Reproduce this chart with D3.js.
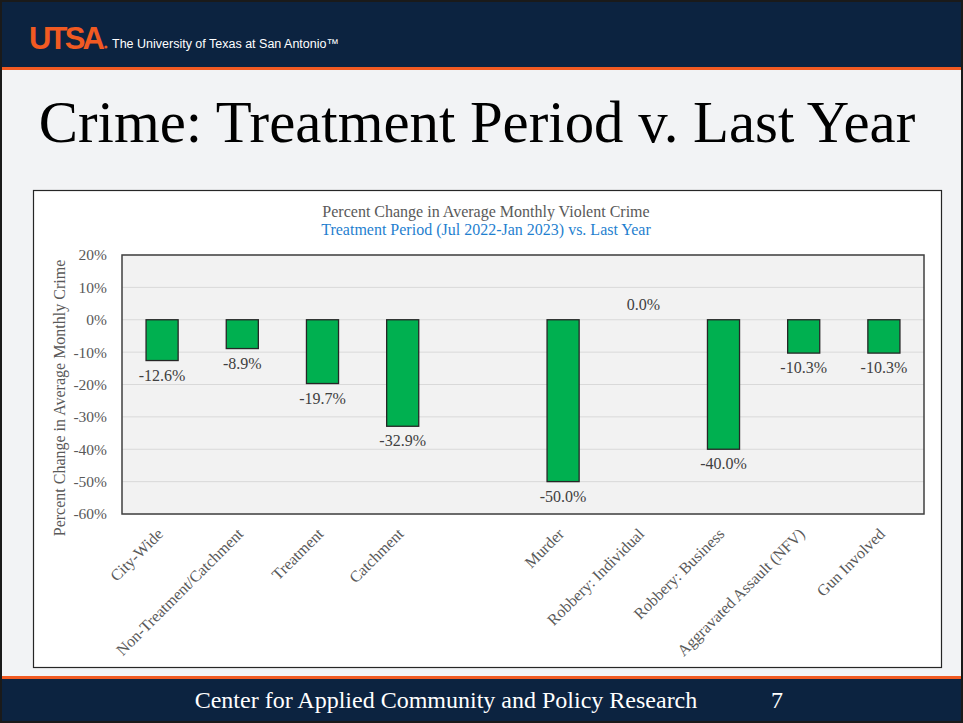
<!DOCTYPE html>
<html><head><meta charset="utf-8">
<script src="https://cdn.jsdelivr.net/npm/d3@7"></script>
<style>body{margin:0;padding:0;background:#fff;}svg{display:block;}</style>
</head><body>
<script>
const categories = ["City-Wide","Non-Treatment/Catchment","Treatment","Catchment","","Murder","Robbery: Individual","Robbery: Business","Aggravated Assault (NFV)","Gun Involved"];
const values = [-12.6,-8.9,-19.7,-32.9,null,-50.0,0.0,-40.0,-10.3,-10.3];
const yTicks = [20,10,0,-10,-20,-30,-40,-50,-60];
const chartTitle = "Percent Change in Average Monthly Violent Crime";
const chartSubtitle = "Treatment Period (Jul 2022-Jan 2023) vs. Last Year";
const yLabel = "Percent Change in Average Monthly Crime";

const W=963,H=723;
const svg=d3.select("body").append("svg").attr("width",W).attr("height",H);
const serif="'Liberation Serif','Times New Roman',serif";

// slide frame
svg.append("rect").attr("x",0).attr("y",0).attr("width",W).attr("height",H).attr("fill","#1a1a1a");
svg.append("rect").attr("x",2).attr("y",2).attr("width",W-4).attr("height",H-4).attr("fill","#f2f3f5");
// header
svg.append("rect").attr("x",2).attr("y",2).attr("width",W-4).attr("height",66).attr("fill","#0c2340");
svg.append("rect").attr("x",2).attr("y",67).attr("width",W-4).attr("height",3).attr("fill","#f15a22");
svg.append("text").attr("x",29).attr("y",49).attr("fill","#f15a22").attr("font-family","'Liberation Sans',Arial,sans-serif").attr("font-weight","bold").attr("font-size",31).attr("letter-spacing",-2.8).text("UTSA");
svg.append("circle").attr("cx",106).attr("cy",47).attr("r",1.6).attr("fill","#f15a22");
svg.append("text").attr("x",112).attr("y",48).attr("fill","#ffffff").attr("font-family","'Liberation Sans',Arial,sans-serif").attr("font-size",12.5).text("The University of Texas at San Antonio\u2122");
// footer
svg.append("rect").attr("x",2).attr("y",676).attr("width",W-4).attr("height",4).attr("fill","#f15a22");
svg.append("rect").attr("x",2).attr("y",679).attr("width",W-4).attr("height",H-681).attr("fill","#0c2340");
svg.append("text").attr("x",446).attr("y",708).attr("text-anchor","middle").attr("fill","#fff").attr("font-family",serif).attr("font-size",24).text("Center for Applied Community and Policy Research");
svg.append("text").attr("x",777).attr("y",708).attr("text-anchor","middle").attr("fill","#fff").attr("font-family",serif).attr("font-size",24).text("7");
// slide title
svg.append("text").attr("x",477).attr("y",142).attr("text-anchor","middle").attr("fill","#000").attr("font-family",serif).attr("font-size",58.8).text("Crime: Treatment Period v. Last Year");

// chart box
svg.append("rect").attr("x",33.5).attr("y",190.5).attr("width",908).attr("height",477).attr("fill","#fff").attr("stroke","#262626").attr("stroke-width",1.2);
svg.append("text").attr("x",486).attr("y",217).attr("text-anchor","middle").attr("fill","#595959").attr("font-family",serif).attr("font-size",16).text(chartTitle);
svg.append("text").attr("x",486).attr("y",235).attr("text-anchor","middle").attr("fill","#1f7fcf").attr("font-family",serif).attr("font-size",16).text(chartSubtitle);

const m={l:122,t:255,r:924,b:514};
const x=d3.scaleBand().domain(categories.map((c,i)=>i)).range([m.l,m.r]).paddingInner(0.6).paddingOuter(0.3);
const y=d3.scaleLinear().domain([-60,20]).range([m.b,m.t]);

const g=svg.append("g");
g.append("rect").attr("x",m.l).attr("y",m.t).attr("width",m.r-m.l).attr("height",m.b-m.t).attr("fill","#f2f2f2");
// grid
g.selectAll("line.grid").data(yTicks).join("line").attr("class","grid")
 .attr("x1",m.l).attr("x2",m.r).attr("y1",d=>y(d)).attr("y2",d=>y(d)).attr("stroke","#d9d9d9").attr("stroke-width",1);
// y axis
const ya=g.append("g").attr("transform",`translate(${m.l},0)`).call(d3.axisLeft(y).tickValues(yTicks).tickSize(0).tickPadding(15).tickFormat(d=>d+"%"));
ya.select(".domain").remove();
ya.selectAll("text").attr("font-family",serif).attr("font-size",15.5).attr("fill","#595959");
// x axis labels
const xa=g.append("g").attr("transform",`translate(0,${m.b})`).call(d3.axisBottom(x).tickSize(0).tickFormat(i=>categories[i]));
xa.select(".domain").remove();
xa.selectAll("text").attr("font-family",serif).attr("font-size",16).attr("fill","#595959")
 .attr("text-anchor","end").attr("transform","translate(-2,17) rotate(-45)").attr("dy","0.35em").attr("y",0).attr("x",0);

// bars
const data=values.map((v,i)=>({i,v})).filter(d=>d.v!==null);
g.selectAll("rect.bar").data(data.filter(d=>d.v!==0)).join("rect").attr("class","bar")
 .attr("x",d=>x(d.i)).attr("width",x.bandwidth())
 .attr("y",d=>y(Math.max(0,d.v))).attr("height",d=>Math.abs(y(d.v)-y(0)))
 .attr("fill","#00b050").attr("stroke","#262626").attr("stroke-width",1.3);
// labels
g.selectAll("text.lbl").data(data).join("text").attr("class","lbl")
 .attr("x",d=>x(d.i)+x.bandwidth()/2)
 .attr("y",d=>d.v<0?y(d.v)+20:y(0)-10)
 .attr("text-anchor","middle").attr("font-family",serif).attr("font-size",16).attr("fill","#404040")
 .text(d=>d.v.toFixed(1)+"%");
// plot border
g.append("rect").attr("x",m.l).attr("y",m.t).attr("width",m.r-m.l).attr("height",m.b-m.t).attr("fill","none").attr("stroke","#404040").attr("stroke-width",1.5);
// y label
svg.append("text").attr("transform",`translate(65,398) rotate(-90)`).attr("text-anchor","middle")
 .attr("font-family",serif).attr("font-size",16).attr("fill","#595959").text(yLabel);
</script>
</body></html>
